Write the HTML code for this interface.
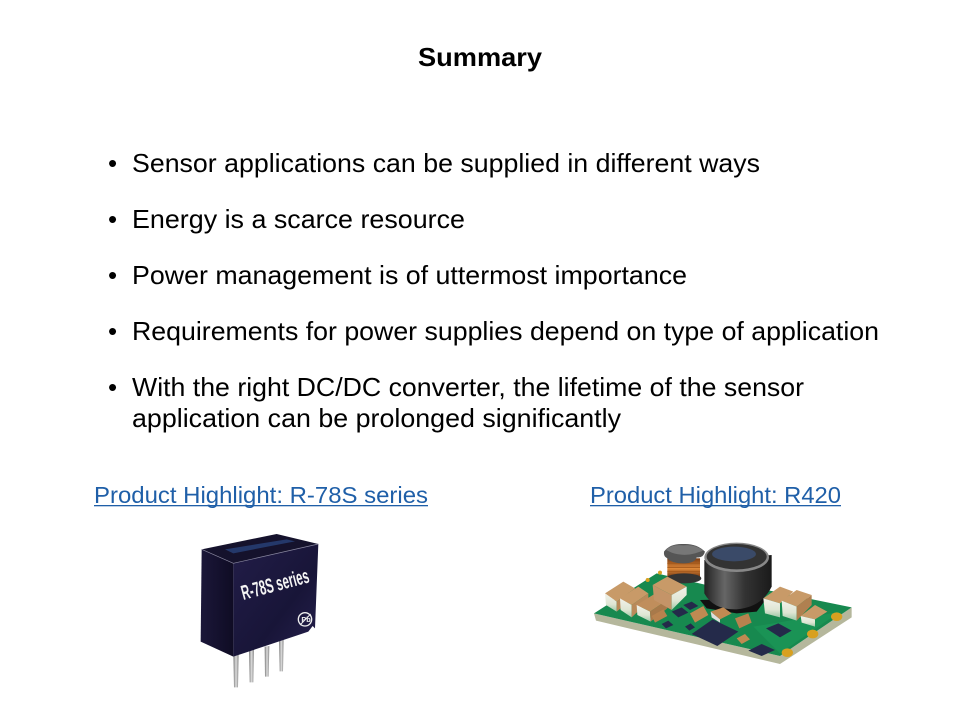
<!DOCTYPE html>
<html><head><meta charset="utf-8"><style>
html,body{margin:0;padding:0;background:#fff}
svg{display:block}
text{font-family:"Liberation Sans",sans-serif}
</style></head><body>
<svg width="960" height="720" viewBox="0 0 960 720" xmlns="http://www.w3.org/2000/svg">
<defs>
<linearGradient id="front" x1="0" y1="0" x2="1" y2="1"><stop offset="0" stop-color="#221d48"/><stop offset=".6" stop-color="#181538"/><stop offset="1" stop-color="#26214e"/></linearGradient>
<linearGradient id="left" x1="0" y1="0" x2="1" y2="0"><stop offset="0" stop-color="#1b1739"/><stop offset="1" stop-color="#0f0c24"/></linearGradient>
<linearGradient id="pin" x1="0" y1="0" x2="1" y2="0"><stop offset="0" stop-color="#777"/><stop offset=".5" stop-color="#ddd"/><stop offset="1" stop-color="#888"/></linearGradient>
<linearGradient id="can" x1="0" y1="0" x2="1" y2="0"><stop offset="0" stop-color="#222"/><stop offset=".3" stop-color="#666"/><stop offset=".6" stop-color="#333"/><stop offset="1" stop-color="#1a1a1a"/></linearGradient>
<linearGradient id="coil" x1="0" y1="0" x2="0" y2="1"><stop offset="0" stop-color="#7a3a10"/><stop offset=".5" stop-color="#e08a3a"/><stop offset="1" stop-color="#6a300c"/></linearGradient>
<linearGradient id="capw" x1="0" y1="0" x2="0" y2="1"><stop offset="0" stop-color="#f2f2ea"/><stop offset=".6" stop-color="#dfe6d4"/><stop offset="1" stop-color="#9fc8a8"/></linearGradient>
</defs>
<rect width="960" height="720" fill="#fff"/>
<text x="480" y="66" text-anchor="middle" font-size="26" font-weight="700" fill="#000" textLength="124" lengthAdjust="spacingAndGlyphs">Summary</text>
<g font-size="26" fill="#000">
<text x="108" y="172">•</text><text x="132" y="172" textLength="628" lengthAdjust="spacingAndGlyphs">Sensor applications can be supplied in different ways</text>
<text x="108" y="228">•</text><text x="132" y="228" textLength="333" lengthAdjust="spacingAndGlyphs">Energy is a scarce resource</text>
<text x="108" y="284">•</text><text x="132" y="284" textLength="555" lengthAdjust="spacingAndGlyphs">Power management is of uttermost importance</text>
<text x="108" y="340">•</text><text x="132" y="340" textLength="747" lengthAdjust="spacingAndGlyphs">Requirements for power supplies depend on type of application</text>
<text x="108" y="396">•</text><text x="132" y="396" textLength="672" lengthAdjust="spacingAndGlyphs">With the right DC/DC converter, the lifetime of the sensor</text>
<text x="132" y="427" textLength="489" lengthAdjust="spacingAndGlyphs">application can be prolonged significantly</text>
</g>
<g font-size="23" fill="#1f5fa8">
<text x="94" y="503" textLength="334" lengthAdjust="spacingAndGlyphs">Product Highlight: R-78S series</text>
<rect x="94" y="505" width="334" height="1.3"/>
<text x="590" y="503" textLength="251" lengthAdjust="spacingAndGlyphs">Product Highlight: R420</text>
<rect x="590" y="505" width="251" height="1.3"/>
</g>

<!-- R-78S module -->
<g transform="translate(180,520) scale(.33333)">
<g fill="url(#pin)">
<polygon points="160,400 176,405 174,502 162,502"/>
<polygon points="207,390 222,388 220,487 209,487"/>
<polygon points="254,380 268,378 266,470 255,470"/>
<polygon points="297,360 311,358 309,454 299,454"/>
</g>
<polygon points="65,88 290,42 415,72 160,130" fill="#15122c"/>
<polygon points="135,88 320,58 345,64 160,100" fill="#24386a"/>
<polygon points="65,88 160,130 160,410 62,365" fill="url(#left)"/>
<polygon points="160,130 415,72 405,325 398,318 385,335 160,410" fill="url(#front)"/>
<path d="M65,88 L160,130 L415,72" fill="none" stroke="#8a88a0" stroke-width="2"/>
<text transform="translate(190,240) rotate(-15)" font-size="62" font-weight="700" fill="#f4f4f4" textLength="208" lengthAdjust="spacingAndGlyphs">R-78S series</text>
<circle cx="375" cy="298" r="20" fill="none" stroke="#eee" stroke-width="4"/>
<path d="M360,315 L392,282" stroke="#eee" stroke-width="3"/>
<text x="364" y="306" font-size="22" font-weight="700" fill="#eee">Pb</text>
</g>

<!-- R420 PCB -->
<g transform="translate(580,530) scale(.33333)">
<polygon points="42,250 48,272 600,402 815,262 815,232 600,378" fill="#b5b79c"/>
<polygon points="42,250 230,130 400,170 560,180 815,232 600,378" fill="#17894f"/>
<polygon points="520,290 700,260 780,245 600,370" fill="#1a9355"/>
<rect x="262" y="85" width="98" height="60" fill="url(#coil)"/>
<path d="M262,100h98M262,112h98M262,124h98" stroke="#a55a1c" stroke-width="3"/>
<ellipse cx="312" cy="145" rx="52" ry="15" fill="#333"/>
<path d="M252,65 Q270,40 310,42 Q350,40 375,65 Q370,85 350,82 Q345,100 310,100 Q275,100 262,85 Q250,80 252,65Z" fill="#555"/>
<path d="M258,60 Q275,42 310,46 Q345,42 370,62 L345,70 Q310,80 275,68Z" fill="#777"/>
<polygon points="360,210 560,205 530,245 470,250 380,235" fill="#111"/>
<path d="M373,90 L373,190 Q400,240 470,238 Q545,232 575,170 L575,75 Z" fill="url(#can)"/>
<ellipse cx="470" cy="82" rx="97" ry="44" fill="#888"/>
<ellipse cx="470" cy="80" rx="90" ry="38" fill="#333"/>
<ellipse cx="462" cy="72" rx="66" ry="22" fill="#3a4a68"/>
<g>
<polygon points="75,190 130,155 165,175 110,215" fill="#c89a68"/><polygon points="75,190 110,215 110,245 78,225" fill="url(#capw)"/><polygon points="110,215 165,175 165,200 110,245" fill="#b98a5a"/>
<polygon points="120,205 175,170 205,190 155,225" fill="#c89a68"/><polygon points="120,205 155,225 155,262 122,240" fill="url(#capw)"/><polygon points="155,225 205,190 205,215 155,262" fill="#b98a5a"/>
<polygon points="170,225 230,188 262,210 210,245" fill="#c08e5c"/><polygon points="170,225 210,245 212,275 172,255" fill="url(#capw)"/><polygon points="210,245 262,210 262,235 212,275" fill="#a8794a"/>
<polygon points="218,165 262,140 320,170 275,195" fill="#c89a68"/><polygon points="218,165 275,195 275,240 222,210" fill="#c49468"/><polygon points="275,195 320,170 320,195 275,240" fill="url(#capw)"/>
<polygon points="550,205 600,170 640,185 600,220" fill="#c89a68"/><polygon points="550,205 600,220 600,262 555,250" fill="url(#capw)"/>
<polygon points="605,212 650,180 695,195 650,230" fill="#c89a68"/><polygon points="605,212 650,230 650,272 608,258" fill="url(#capw)"/><polygon points="650,230 695,195 695,225 650,272" fill="#b08050"/>
<polygon points="662,258 705,225 742,245 705,268" fill="#c89a68"/><polygon points="662,258 705,268 705,290 665,278" fill="url(#capw)"/>
<polygon points="215,258 250,238 262,258 225,278" fill="#b8824e"/>
<polygon points="330,250 370,228 385,255 345,278" fill="#c08a52"/>
<polygon points="392,245 430,232 455,250 420,268" fill="#c08a52"/><polygon points="392,245 420,268 420,278 395,262" fill="#ddd"/>
<polygon points="465,265 505,250 515,278 478,295" fill="#b8824e"/>
<polygon points="470,325 495,312 510,328 485,342" fill="#c08a52"/>
</g>
<g fill="#242a4a">
<polygon points="335,312 398,268 475,305 412,348"/>
<polygon points="558,295 595,280 635,302 600,322"/>
<polygon points="505,362 545,342 585,360 545,378"/>
<polygon points="275,245 305,232 325,248 295,262"/>
<polygon points="310,225 335,215 355,228 330,240"/>
<polygon points="245,282 265,272 280,285 258,295"/>
<polygon points="315,290 332,280 345,292 328,302"/>
</g>
<g fill="#d8a020"><ellipse cx="622" cy="368" rx="17" ry="13"/><ellipse cx="698" cy="312" rx="17" ry="13"/><ellipse cx="770" cy="260" rx="17" ry="13"/><circle cx="203" cy="150" r="6"/><circle cx="240" cy="128" r="6"/></g>
</g>
</svg>
</body></html>
